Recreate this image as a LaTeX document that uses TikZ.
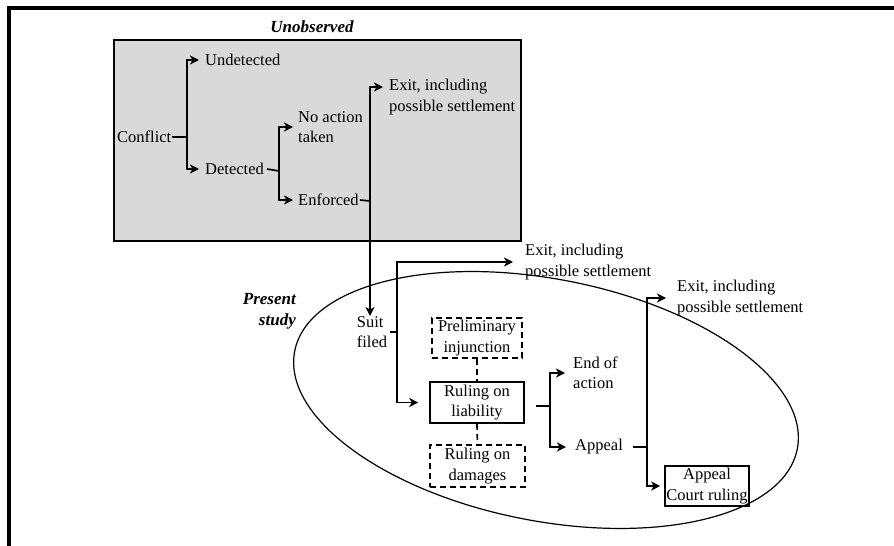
\documentclass[tikz,border=0pt]{standalone}
\usepackage{fontspec}
\setmainfont{Liberation Serif}
\usetikzlibrary{arrows.meta}
\begin{document}
\begin{tikzpicture}[x=1pt,y=-1pt,
  txt/.style={inner sep=0pt, align=left, font=\fontsize{16.5}{20.5}\selectfont},
  ttl/.style={inner sep=0pt, font=\fontsize{17}{21}\selectfont\bfseries\itshape},
  solidbox/.style={draw, line width=1.6pt, inner sep=0pt, align=center, font=\fontsize{16.5}{20.5}\selectfont},
  dashbox/.style={solidbox, dash pattern=on 6pt off 4pt},
  conn/.style={line width=1.7pt},
  arr/.style={conn, -{Stealth[length=9pt,width=9pt,inset=2.5pt]}},
]
\useasboundingbox (0,0) rectangle (894,546);
% frame
\draw[line width=3.2pt] (9,546) -- (9,8) -- (894,8);

% unobserved box
\node[ttl] (unobs) at (312,27) {Unobserved};
\filldraw[fill={rgb,255:red,217;green,217;blue,217}, line width=1.6pt] (114,40) rectangle (521,241);

\node[txt, anchor=west] (conflict) at (117,137) {Conflict};
\node[txt, anchor=west] (undet) at (205,60) {Undetected};
\node[txt, anchor=west] (det) at (205,169) {Detected};
\node[txt, anchor=west] (noact) at (298,127) {No action\\taken};
\node[txt, anchor=west] (enf) at (298,200) {Enforced};
\node[txt, anchor=west] (exit1) at (389,97) {Exit, including\\possible settlement};

\coordinate (j1) at (187,137);
\coordinate (j2) at (279,171);
\coordinate (j3) at (370,201);

\draw[conn] ([xshift=1pt]conflict.east) -- (j1);
\draw[arr, shorten >=6pt] (j1) |- (undet.west);
\draw[arr, shorten >=6pt] (j1) |- (det.west);
\draw[conn] ([xshift=3pt]det.east) -- (j2);
\draw[arr, shorten >=5pt] (j2) |- (noact.west);
\draw[arr, shorten >=5pt] (j2) |- (enf.west);
\draw[conn] ([xshift=1pt]enf.east) -- (j3);
\draw[arr, shorten >=6pt] (j3) |- ([yshift=10pt]exit1.west);

% present study
\draw[line width=1.2pt, rotate around={-11:(546,400)}] (546,400) ellipse [x radius=256, y radius=121];
\node[txt, anchor=east, align=right, font=\fontsize{17}{21}\selectfont\bfseries\itshape] (present) at (296,311) {Present\\study};

\node[txt, align=left] (suit) at (372,332) {Suit\\filed};
\coordinate (j4) at (397,332);
\node[txt, anchor=west] (exit2) at (525,262) {Exit, including\\possible settlement};
\node[solidbox, minimum width=94pt, minimum height=41pt] (liab) at (477,402.5) {Ruling on\\liability};
\node[dashbox, minimum width=90pt, minimum height=40pt] (prelim) at (477,338) {Preliminary\\injunction};
\node[dashbox, minimum width=95pt, minimum height=42pt] (dam) at (477.5,466) {Ruling on\\damages};

\draw[arr] (j3) -- (suit.north -| j3);
\draw[conn] ([xshift=3pt]suit.east) -- (j4);
\draw[arr, shorten >=12pt] (j4) |- (exit2.west);
\draw[arr, shorten >=11pt] (j4) |- (liab.west);
\draw[conn, dash pattern=on 6pt off 4pt] (prelim.south) -- (liab.north);
\draw[conn, dash pattern=on 6pt off 4pt] (liab.south) -- (dam.north);

\coordinate (j5) at (550,406);
\node[txt, anchor=west] (endact) at (573,373) {End of\\action};
\node[txt, anchor=west] (appeal) at (575,447) {Appeal};
\draw[conn] ([xshift=11pt,yshift=-3.5pt]liab.east) -- (j5);
\draw[arr, shorten >=8pt] (j5) |- (endact.west);
\draw[arr, shorten >=9pt] (j5) |- (appeal.west);

\coordinate (j6) at (647,447);
\node[txt, anchor=west] (exit3) at (677,298) {Exit, including\\possible settlement};
\node[solidbox, minimum width=84pt, minimum height=40pt] (court) at (707,486) {Appeal\\Court ruling};
\draw[conn] ([xshift=10pt]appeal.east) -- (j6);
\draw[arr, shorten >=11pt] (j6) |- (exit3.west);
\draw[arr, shorten >=4pt] (j6) |- (court.west);
\end{tikzpicture}
\end{document}
